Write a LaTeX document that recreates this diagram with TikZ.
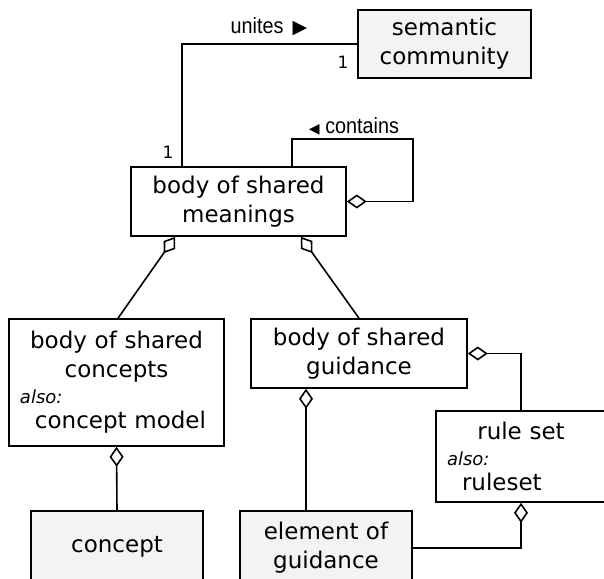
\documentclass[tikz,border=0pt]{standalone}
\usepackage{fontspec}
\setmainfont{DejaVu Sans}
\newfontfamily\labelfont[FakeStretch=0.9]{Liberation Sans}
\usetikzlibrary{arrows.meta}
\definecolor{boxgray}{HTML}{F3F3F3}
% second name of a class, left aligned under the main name
\newcommand\alsoname[1]{\leavevmode\hbox to \hsize{\hspace{11pt}{\fontsize{18}{22}\selectfont\itshape also:}\hfil}\\[-4pt]%
  \leavevmode\hbox to \hsize{\hspace{26pt}#1\hfil}}
\begin{document}
\begin{tikzpicture}[x=1pt,y=-1pt,
  cls/.style={draw, line width=1.6pt, align=center, inner sep=0pt, font=\fontsize{23}{29}\selectfont},
  leaf/.style={cls, fill=boxgray},
  agg/.style={line width=1.6pt, {Diamond[open, fill=white, length=20pt, width=14pt]}-},
  link/.style={line width=1.6pt},
  mult/.style={font=\fontsize{17}{20}\selectfont},
  rolename/.style={font=\labelfont\fontsize{22}{24}\selectfont}]
\useasboundingbox (0,0) rectangle (604,578);
\clip (0,0) rectangle (604,578);
% classes
\node[leaf, minimum width=173, minimum height=68] (sc) at (444.5,44) {semantic\\community};
\node[cls, minimum width=215, minimum height=69] (bsm) at (238.5,201.5) {body of shared\\meanings};
\node[cls, minimum width=215, minimum height=127, text width=215] (bsc) at (116.5,382.5)
  {body of shared\\concepts\\[-3pt] \alsoname{concept model}};
\node[cls, minimum width=216, minimum height=69] (bsg) at (359,353.5) {body of shared\\guidance};
\node[cls, minimum width=170, minimum height=91, text width=170] (rs) at (521,456.5)
  {rule set\\[-3pt] \alsoname{ruleset}};
\node[leaf, minimum width=172, minimum height=72] (concept) at (117,547) {concept};
\node[leaf, minimum width=172, minimum height=74] (eog) at (326,548) {element of\\guidance};
% associations
\draw[link] ([xshift=52pt]bsm.north west) |- (sc.west);
\node[mult] (m1) at (168,152) {1};
\node[mult] (m2) at (343,62) {1};
\node[rolename] (unites) at (269,27) {unites\, {\rmfamily\fontsize{19}{19}\selectfont ▶}};
\draw[agg] (bsm.east) -- ++(66,0) -- ++(0,-62.5) -| ([xshift=53.5pt]bsm.north);
\node[rolename] (contains) at (354,126) {{\rmfamily\fontsize{14}{14}\selectfont ◀} contains};
% aggregations
\draw[agg] ([xshift=45pt]bsm.south west) -- ([xshift=1.5pt]bsc.north);
\draw[agg] ([xshift=-46pt]bsm.south east) -- (bsg.north);
\draw[agg] (bsc.south) -- (concept.north);
\draw[agg] ([xshift=-53pt]bsg.south) -- ([xshift=-53pt]bsg.south |- eog.north);
\draw[agg] (bsg.east) -| (rs.north);
\draw[agg] (rs.south) |- (eog.east);
\end{tikzpicture}
\end{document}
